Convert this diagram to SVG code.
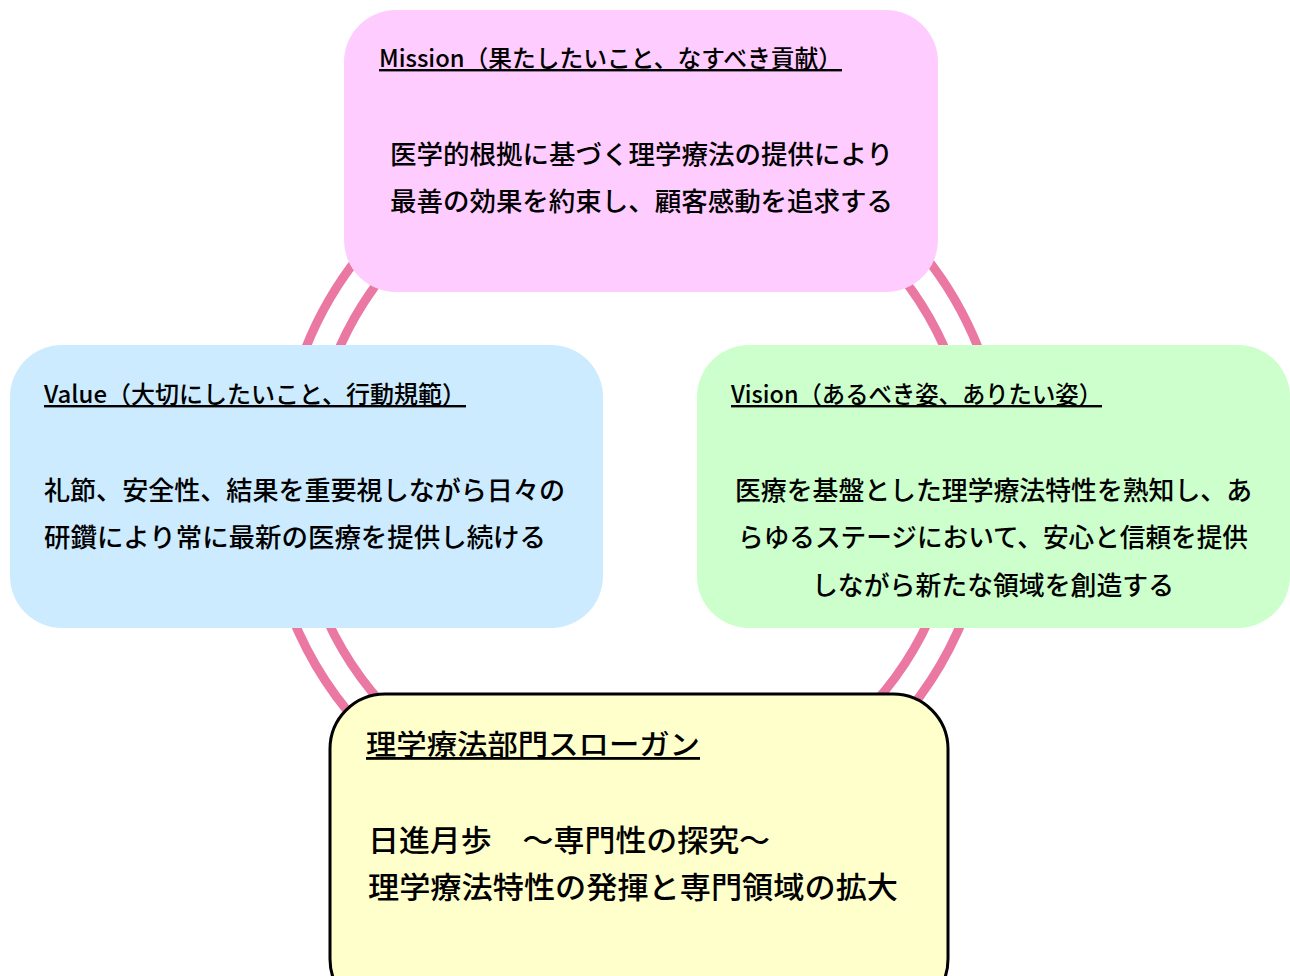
<svg xmlns="http://www.w3.org/2000/svg" width="1290" height="976" viewBox="0 0 1290 976">
<style>
.ring{fill:none;stroke:#EA78A2;stroke-width:9}
text{font-family:"Noto Sans CJK JP","Noto Sans",sans-serif;fill:#000;font-weight:500}
.title{font-size:24px;text-decoration:underline}
.body{font-size:26px}
.stitle{font-size:28px;text-decoration:underline}
.sbody{font-size:30px}
</style>
<rect width="1290" height="976" fill="#ffffff"/>
<g id="connectors">
<path class="ring" d="M 280 482 A 362 362 0 0 1 1004 482"/>
<path class="ring" d="M 311 482 A 331 331 0 0 1 973 482"/>
<path class="ring" d="M 266 482 A 362 362 0 0 0 990 482"/>
<path class="ring" d="M 297 482 A 331 331 0 0 0 959 482"/>
</g>
<g id="mission">
<rect x="344" y="10" width="594" height="282" rx="52" fill="#FFCCFF"/>
<text class="title" x="379" y="67" textLength="463" lengthAdjust="spacingAndGlyphs">Mission（果たしたいこと、なすべき貢献）</text>
<text class="body" x="390" y="164" textLength="503" lengthAdjust="spacingAndGlyphs">医学的根拠に基づく理学療法の提供により</text>
<text class="body" x="390" y="211" textLength="503" lengthAdjust="spacingAndGlyphs">最善の効果を約束し、顧客感動を追求する</text>
</g>
<g id="value">
<rect x="10" y="345" width="593" height="283" rx="52" fill="#CCEBFF"/>
<text class="title" x="44" y="403" textLength="422" lengthAdjust="spacingAndGlyphs">Value（大切にしたいこと、行動規範）</text>
<text class="body" x="44" y="500" textLength="521" lengthAdjust="spacingAndGlyphs">礼節、安全性、結果を重要視しながら日々の</text>
<text class="body" x="44" y="547" textLength="502" lengthAdjust="spacingAndGlyphs">研鑽により常に最新の医療を提供し続ける</text>
</g>
<g id="vision">
<rect x="697" y="345" width="593" height="283" rx="52" fill="#CCFFCC"/>
<text class="title" x="731" y="403" textLength="371" lengthAdjust="spacingAndGlyphs">Vision（あるべき姿、ありたい姿）</text>
<text class="body" x="735" y="500" textLength="517" lengthAdjust="spacingAndGlyphs">医療を基盤とした理学療法特性を熟知し、あ</text>
<text class="body" x="738" y="547" textLength="510" lengthAdjust="spacingAndGlyphs">らゆるステージにおいて、安心と信頼を提供</text>
<text class="body" x="812" y="595" textLength="362" lengthAdjust="spacingAndGlyphs">しながら新たな領域を創造する</text>
</g>
<g id="slogan">
<rect x="330" y="694" width="618" height="320" rx="55" fill="#FFFFCC" stroke="#000" stroke-width="3"/>
<text class="stitle" x="366" y="755" textLength="334" lengthAdjust="spacingAndGlyphs">理学療法部門スローガン</text>
<text class="sbody" x="368" y="851" textLength="402" lengthAdjust="spacingAndGlyphs">日進月歩　～専門性の探究～</text>
<text class="sbody" x="368" y="898" textLength="530" lengthAdjust="spacingAndGlyphs">理学療法特性の発揮と専門領域の拡大</text>
</g>
</svg>
